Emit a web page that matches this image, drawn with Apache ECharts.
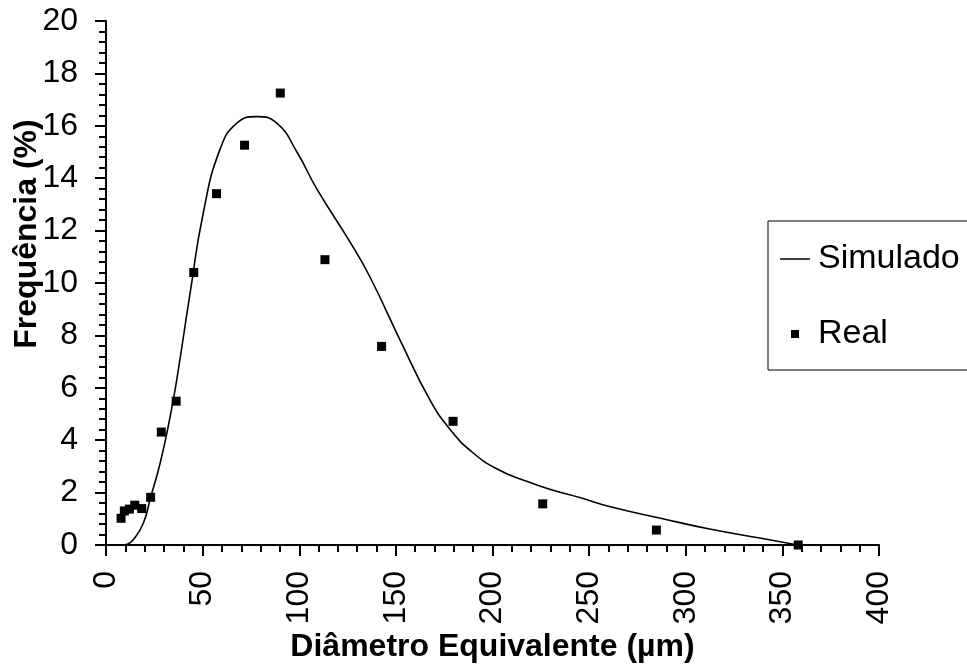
<!DOCTYPE html>
<html>
<head>
<meta charset="utf-8">
<script src="https://cdn.jsdelivr.net/npm/echarts@6/dist/echarts.min.js"></script>
<style>
  html, body { margin: 0; padding: 0; background: #fff; }
  #chart { width: 967px; height: 670px; }
</style>
</head>
<body>
<div id="chart"></div>
<script>
// curva simulada
var simX = [8, 11, 14, 19.3, 23.1, 28, 33.2, 36.6, 43.5, 50.4, 59, 67.7, 78, 88.4, 98.8, 109, 126.4,
  136.8, 152.3, 167.9, 178.2, 188.6, 202.4, 218, 230, 245.6, 261, 287, 313, 339, 358];
var simY = [0, 0.03, 0.19, 0.83, 1.82, 3.12, 4.9, 6.3, 9.6, 12.7, 15.1, 16.1, 16.35, 16.1, 15.0, 13.6, 11.55,
  10.2, 7.8, 5.5, 4.4, 3.6, 2.9, 2.42, 2.12, 1.8, 1.46, 1.02, 0.6, 0.26, 0];

// pontos medidos
var realX = [7.8, 9.5, 12.1, 14.9, 18.5, 23.1, 28.6, 36.3, 45.4, 57.2, 71.7, 90.2, 113.3, 142.6, 179.6, 226, 284.8, 358.2];
var realY = [1.02, 1.30, 1.37, 1.52, 1.39, 1.82, 4.31, 5.49, 10.4, 13.41, 15.26, 17.25, 10.89, 7.58, 4.72, 1.57, 0.57, 0.0];

var seriesNames = ['Simulado', 'Real'];
var xTitle = 'Diâmetro Equivalente (µm)';
var yTitle = 'Frequência (%)';

function pairs(xs, ys) {
  var out = [];
  for (var i = 0; i < xs.length; i++) {
    out.push([xs[i], ys[i]]);
  }
  return out;
}

var font = 'Liberation Sans';
var axisCommon = {
  axisLine: { lineStyle: { color: '#000', width: 2 } },
  axisTick: { show: true, inside: false, length: 11, lineStyle: { color: '#000', width: 2 } },
  minorTick: { show: true, splitNumber: 5, length: 7, lineStyle: { color: '#000', width: 2 } },
  splitLine: { show: false },
  minorSplitLine: { show: false },
  nameMoveOverlap: false
};

var option = {
  backgroundColor: '#fff',
  animation: false,
  grid: { left: 106, right: 88, top: 21, bottom: 125, outerBoundsMode: 'none' },
  legend: {
    data: [
      { name: seriesNames[0], icon: 'path://M0,0H30V1.5H0Z' },
      { name: seriesNames[1], icon: 'path://M0,0H10V10H0Z' }
    ],
    orient: 'vertical',
    left: 768,
    top: 221,
    padding: [21, 30, 19, 12],
    itemGap: 41,
    itemWidth: 30,
    itemHeight: 8,
    borderColor: '#000',
    borderWidth: 1,
    textStyle: { fontFamily: font, fontSize: 34, color: '#000', lineHeight: 34, padding: [0, 0, 0, 3] }
  },
  xAxis: Object.assign({
    type: 'value',
    min: 0,
    max: 400,
    interval: 50,
    name: xTitle,
    nameLocation: 'middle',
    nameGap: 86,
    nameTextStyle: { fontFamily: font, fontSize: 32, fontWeight: 'bold', color: '#000' },
    axisLabel: { rotate: 90, margin: 26, fontFamily: font, fontSize: 32, color: '#000' }
  }, axisCommon),
  yAxis: Object.assign({
    type: 'value',
    min: 0,
    max: 20,
    interval: 2,
    name: yTitle,
    nameLocation: 'middle',
    nameGap: 63,
    nameTextStyle: { fontFamily: font, fontSize: 32, fontWeight: 'bold', color: '#000', padding: [0, 0, 0, 98] },
    axisLabel: { margin: 28, fontFamily: font, fontSize: 32, color: '#000' }
  }, axisCommon),
  series: [
    {
      name: seriesNames[0],
      type: 'line',
      data: pairs(simX, simY),
      smooth: 0.5,
      symbol: 'none',
      lineStyle: { color: '#000', width: 1.6 },
      itemStyle: { color: '#000' },
      z: 2
    },
    {
      name: seriesNames[1],
      type: 'scatter',
      data: pairs(realX, realY),
      symbol: 'rect',
      symbolSize: 9,
      itemStyle: { color: '#000', opacity: 1 },
      z: 3
    }
  ]
};

var myChart = echarts.init(document.getElementById('chart'));
myChart.setOption(option);
</script>
</body>
</html>
